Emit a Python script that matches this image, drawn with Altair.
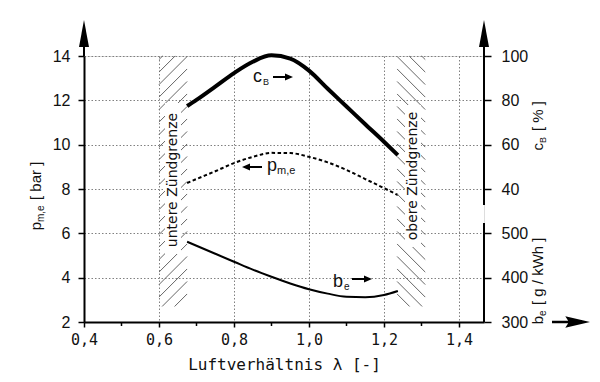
import altair as alt
import pandas as pd

# ---------------- data ----------------
lam = [0.675, 0.70, 0.75, 0.80, 0.85, 0.90, 0.95, 1.00, 1.05, 1.10, 1.15, 1.20, 1.237]
cB = [77.4, 80.2, 86.2, 92.3, 97.4, 100.3, 98.8, 93.4, 85.2, 77.2, 69.2, 61.3, 55.3]
pme = [8.27, 8.45, 8.80, 9.17, 9.45, 9.63, 9.62, 9.45, 9.20, 8.86, 8.45, 8.04, 7.73]
be = [481, 472, 454, 436, 418, 402, 387, 374, 364, 357, 356, 361, 370]

x_ticks = [0.4, 0.6, 0.8, 1.0, 1.2, 1.4]
x_minor = [0.5, 0.7, 0.9, 1.1, 1.3]
p_ticks = [2, 4, 6, 8, 10, 12, 14]
cB_ticks = [40, 60, 80, 100]
be_ticks = [300, 400, 500]

zone_lo = [0.6, 1.235]
zone_hi = [0.675, 1.31]
zone_dir = [1, -1]
zone_p = [2.7, 14]

# ---------------- layout ----------------
W, H = 400, 266
X_DOM = [0.4, 1.4667]
P_DOM = [2, 14]
CB_DOM = [-20, 100]
BE_DOM = [300, 900]
XS = W / (X_DOM[1] - X_DOM[0])
YS = H / (P_DOM[1] - P_DOM[0])

FONT = "Liberation Sans"
MONO = "DejaVu Sans Mono"
INK = "#111111"
GRID = "#808080"

curves = pd.DataFrame({"lam": lam, "cB": cB, "pme": pme, "be": be})

# hatch lines for the ignition-limit zones
rows = []
for lo, hi, d in zip(zone_lo, zone_hi, zone_dir):
    u0, u1 = (lo - X_DOM[0]) * XS, (hi - X_DOM[0]) * XS
    v0, v1 = (zone_p[0] - P_DOM[0]) * YS, (zone_p[1] - P_DOM[0]) * YS
    step = 12.5
    if d == 1:
        c = v0 - u1
        while c < v1 - u0:
            a, b = max(u0, v0 - c), min(u1, v1 - c)
            if b > a:
                rows.append({"x": X_DOM[0] + a / XS, "y": P_DOM[0] + (a + c) / YS,
                             "x2": X_DOM[0] + b / XS, "y2": P_DOM[0] + (b + c) / YS})
            c += step
    else:
        c = v0 + u0
        while c < v1 + u1:
            a, b = max(u0, c - v1), min(u1, c - v0)
            if b > a:
                rows.append({"x": X_DOM[0] + a / XS, "y": P_DOM[0] + (c - a) / YS,
                             "x2": X_DOM[0] + b / XS, "y2": P_DOM[0] + (c - b) / YS})
            c += step
hatch = pd.DataFrame(rows)

x_scale = alt.Scale(domain=X_DOM, nice=False, zero=False)
x_axis = alt.Axis(values=x_ticks, labelExpr="replace(format(datum.value, '.1f'), '.', ',')",
                  labelFont=MONO, labelFontSize=15, labelColor=INK, labelFlush=False,
                  labelOverlap=False, labelPadding=5, tickSize=5, tickWidth=1.5,
                  tickColor="black", domainColor="black", domainWidth=2, grid=True,
                  gridDash=[1.5, 2], gridColor=GRID, gridWidth=1,
                  title="Luftverhältnis λ [-]", titleFont=MONO, titleFontSize=16,
                  titleFontWeight="normal", titleColor=INK, titlePadding=9)


def X(field):
    return alt.X(f"{field}:Q", scale=x_scale, axis=x_axis)


def Yp(field, axis=None):
    return alt.Y(f"{field}:Q", scale=alt.Scale(domain=P_DOM, nice=False, zero=False), axis=axis)


p_axis = alt.Axis(values=p_ticks, orient="left", labelFont=FONT, labelFontSize=16,
                  labelColor=INK, labelFlush=False, labelPadding=8, tickSize=6,
                  tickWidth=1.5, tickColor="black", domainColor="black", domainWidth=2,
                  grid=True, gridDash=[1.5, 2], gridColor=GRID, gridWidth=1, title=None)
cB_axis = alt.Axis(values=cB_ticks, orient="right", labelFont=FONT, labelFontSize=16,
                   labelColor=INK, labelFlush=False, labelPadding=10, tickSize=7,
                   tickWidth=1.5, tickColor="black", domain=False, grid=False, title=None)
be_axis = alt.Axis(values=be_ticks, orient="right", labelFont=FONT, labelFontSize=16,
                   labelColor=INK, labelFlush=False, labelPadding=10, tickSize=7,
                   tickWidth=1.5, tickColor="black", domain=False, grid=False, title=None)

one = alt.Data(values=[{}])


def txt(s, x, y, size, align="left", angle=0, font=FONT, baseline="alphabetic"):
    return alt.Chart(one).mark_text(text=s, fontSize=size, font=font, align=align,
                                    angle=angle, baseline=baseline, color=INK).encode(
        x=alt.value(x), y=alt.value(y))


def sym(path, x, y, size):
    return alt.Chart(one).mark_point(shape=path, size=size, filled=True, opacity=1,
                                     color="black", strokeWidth=0).encode(
        x=alt.value(x), y=alt.value(y))


def vrule(x, y, y2, w=2):
    return alt.Chart(one).mark_rule(color="black", strokeWidth=w).encode(
        x=alt.value(x), y=alt.value(y), y2=alt.value(y2))


def box(x, x2, y, y2):
    return alt.Chart(one).mark_rect(color="white").encode(
        x=alt.value(x), x2=alt.value(x2), y=alt.value(y), y2=alt.value(y2))


UP = "M0,-1L0.37,1L-0.37,1Z"
RIGHT_BIG = "M-1,-0.06L-0.15,-0.06L-0.3,-0.3L1,0L-0.3,0.3L-0.15,0.06L-1,0.06Z"
R_SMALL = "M-1,-0.1L0.2,-0.1L0.2,-0.35L1,0L0.2,0.35L0.2,0.1L-1,0.1Z"
L_SMALL = "M1,-0.1L-0.2,-0.1L-0.2,-0.35L-1,0L-0.2,0.35L-0.2,0.1L1,0.1Z"

base = alt.Chart(curves)

layers = [
    base.mark_line(color="black", strokeWidth=2, strokeDash=[3.5, 2.5], interpolate="monotone").encode(
        x=X("lam"), y=Yp("pme", p_axis)),
    alt.Chart(hatch).mark_rule(color="#666666", strokeWidth=1).encode(
        x=X("x"), y=Yp("y"), x2="x2:Q", y2="y2:Q"),
    box(81, 97, 47, 198),
    box(321, 337, 49, 191),
    base.mark_line(color="black", strokeWidth=4, interpolate="monotone").encode(
        x=X("lam"), y=alt.Y("cB:Q", scale=alt.Scale(domain=CB_DOM, nice=False, zero=False), axis=cB_axis)),
    base.mark_line(color="black", strokeWidth=2, interpolate="monotone").encode(
        x=X("lam"), y=alt.Y("be:Q", scale=alt.Scale(domain=BE_DOM, nice=False, zero=False), axis=be_axis)),
    alt.Chart(pd.DataFrame({"m": x_minor})).mark_rule(color="black", strokeWidth=1.5).encode(
        x=X("m"), y=alt.value(H), y2=alt.value(H + 4)),
    # axis lines and arrows
    vrule(0, -12, 0),
    vrule(W, -12, 149),
    vrule(W, 167, H),
    sym(UP, 0, -22.5, 729),
    sym(UP, W, -22.5, 729),
    sym(RIGHT_BIG, 487, H, 1444),
    # zone labels
    txt("untere Zündgrenze", 89, 124, 14, align="center", angle=270, font="DejaVu Sans", baseline="middle"),
    txt("obere Zündgrenze", 329, 120, 14, align="center", angle=270, font="DejaVu Sans", baseline="middle"),
    # curve labels
    txt("c", 178, 26, 18, align="right"),
    txt("B", 179, 29, 9),
    sym(R_SMALL, 199, 21, 400),
    sym(L_SMALL, 168, 111, 400),
    txt("p", 183, 115, 18),
    txt("m,e", 193, 118, 11),
    txt("b", 249, 231, 18),
    txt("e", 260, 234, 10),
    sym(R_SMALL, 278, 223, 400),
    # axis titles
    txt("p", -43, 166, 15, align="right", angle=270),
    txt("m,e", -40, 166, 10, angle=270),
    txt("[ bar  ]", -43, 144, 15, angle=270),
    txt("c", 459, 87, 15, align="right", angle=270),
    txt("B", 462, 87, 9, angle=270),
    txt("[ % ]", 459, 75, 15, angle=270),
    txt("b", 459, 260, 15, align="right", angle=270),
    txt("e", 462, 260, 10, angle=270),
    txt("[ g / kWh ]", 459, 249, 15, angle=270),
]

chart = alt.layer(*layers).resolve_scale(y="independent").properties(
    width=W, height=H,
    padding={"left": 76, "top": 48, "right": 108, "bottom": 52},
    autosize=alt.AutoSizeParams(type="none"),
).configure_view(stroke=None).configure(background="white")

chart.save("out.html", embed_options={"renderer": "svg", "actions": False})
